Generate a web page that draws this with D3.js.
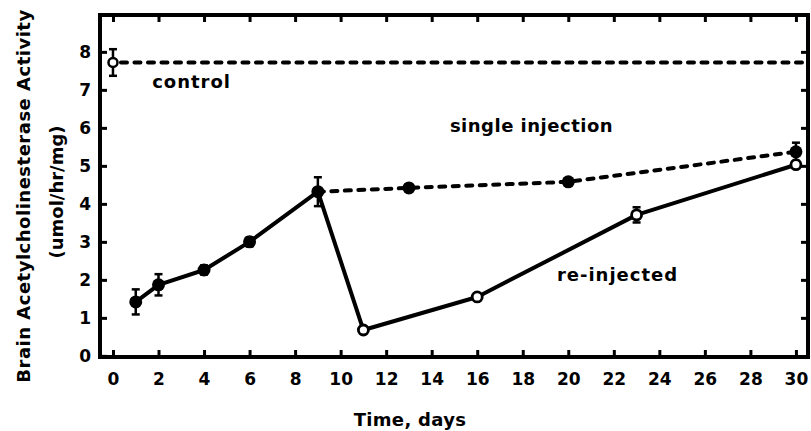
<!DOCTYPE html>
<html>
<head>
<meta charset="utf-8">
<script src="https://cdn.jsdelivr.net/npm/d3@7"></script>
<style>
  html, body { margin: 0; padding: 0; background: #fff; }
  svg { display: block; }
  text { font-family: "DejaVu Sans", sans-serif; font-weight: bold; fill: #000; }
</style>
</head>
<body>
<svg id="chart" width="811" height="431"></svg>
<script>
// ---- data ----
const xTicks = [0, 2, 4, 6, 8, 10, 12, 14, 16, 18, 20, 22, 24, 26, 28, 30];
const yTicks = [0, 1, 2, 3, 4, 5, 6, 7, 8];

const controlDay = [0];
const controlValue = [7.72];
const controlErr = [0.35];

// single injection (filled circles)
const singleDays = [1, 2, 4, 6, 9, 13, 20, 30];
const singleValues = [1.42, 1.87, 2.26, 3.0, 4.32, 4.42, 4.58, 5.37];
const singleErr = [0.33, 0.28, 0.12, 0.12, 0.38, 0, 0, 0.24];

// re-injected (open circles)
const reDays = [11, 16, 23, 30];
const reValues = [0.68, 1.55, 3.71, 5.03];
const reErr = [0, 0, 0.2, 0];

const labels = [
  { text: "control", day: 1.72, value: 7.05, spacing: 1 },
  { text: "single injection", day: 14.8, value: 5.9, spacing: 0.5 },
  { text: "re-injected", day: 19.5, value: 1.97, spacing: 1 }
];

// ---- layout ----
const svg = d3.select("#chart");
const L = 100, R = 808, T = 15, B = 357;
const x = d3.scaleLinear().domain([-0.57, 30.53]).range([L, R]);
const y = d3.scaleLinear().domain([-0.03, 8.97]).range([B, T]);

// frame
svg.append("rect")
  .attr("x", L).attr("y", T).attr("width", R - L).attr("height", B - T)
  .attr("fill", "none").attr("stroke", "#000").attr("stroke-width", 4);

function styleAxis(g) {
  g.select(".domain").remove();
  g.selectAll(".tick line").attr("stroke", "#000").attr("stroke-width", 3);
  g.selectAll(".tick text").style("font-size", "17px").style("font-family", "DejaVu Sans").style("font-weight", "bold");
}

svg.append("g").attr("transform", `translate(0,${B})`)
  .call(d3.axisBottom(x).tickValues(xTicks).tickSize(-7).tickPadding(16).tickFormat(d3.format("d")))
  .call(styleAxis);
svg.append("g").attr("transform", `translate(0,${T})`)
  .call(d3.axisTop(x).tickValues(xTicks).tickSize(-7).tickFormat(""))
  .call(styleAxis);
svg.append("g").attr("transform", `translate(${L},0)`)
  .call(d3.axisLeft(y).tickValues(yTicks).tickSize(-7).tickPadding(9).tickFormat(d3.format("d")))
  .call(styleAxis);
svg.append("g").attr("transform", `translate(${R},0)`)
  .call(d3.axisRight(y).tickValues(yTicks.slice(1)).tickSize(-7).tickFormat(""))
  .call(styleAxis);

// axis titles
svg.append("text")
  .attr("transform", `translate(30,196) rotate(-90)`)
  .attr("text-anchor", "middle")
  .style("font-size", "18px").style("letter-spacing", "0.5px")
  .text("Brain Acetylcholinesterase Activity");
svg.append("text")
  .attr("transform", `translate(63,192) rotate(-90)`)
  .attr("text-anchor", "middle")
  .style("font-size", "18px")
  .text("(umol/hr/mg)");
svg.append("text")
  .attr("x", 410).attr("y", 426)
  .attr("text-anchor", "middle")
  .style("font-size", "18px").style("letter-spacing", "0.3px")
  .text("Time, days");

// lines
const line = d3.line().x(d => x(d[0])).y(d => y(d[1]));
const single = singleDays.map((d, i) => [d, singleValues[i]]);
const re = reDays.map((d, i) => [d, reValues[i]]);
const peak = single.find(d => d[0] === 9);

// control dashed line to the right frame
svg.append("path")
  .attr("d", line([[controlDay[0], controlValue[0]], [x.domain()[1], controlValue[0]]]))
  .attr("fill", "none").attr("stroke", "#000").attr("stroke-width", 4)
  .attr("stroke-dasharray", "6,7.5").attr("stroke-linecap", "round")
  .attr("stroke-dashoffset", -8);

// solid: day 1 -> 9
svg.append("path")
  .attr("d", line(single.filter(d => d[0] <= 9)))
  .attr("fill", "none").attr("stroke", "#000").attr("stroke-width", 4).attr("stroke-linejoin", "round");
// dashed: single injection after day 9
svg.append("path")
  .attr("d", line(single.filter(d => d[0] >= 9)))
  .attr("fill", "none").attr("stroke", "#000").attr("stroke-width", 4)
  .attr("stroke-dasharray", "6,7.5").attr("stroke-linecap", "round");
// solid: re-injected from day 9 peak
svg.append("path")
  .attr("d", line([peak].concat(re)))
  .attr("fill", "none").attr("stroke", "#000").attr("stroke-width", 4).attr("stroke-linejoin", "round");

// error bars
function errBars(days, vals, errs) {
  const data = days.map((d, i) => ({ d, v: vals[i], e: errs[i] })).filter(o => o.e > 0);
  const g = svg.append("g").attr("stroke", "#000").attr("stroke-width", 2.5);
  data.forEach(o => {
    g.append("line").attr("x1", x(o.d)).attr("x2", x(o.d)).attr("y1", y(o.v - o.e)).attr("y2", y(o.v + o.e));
    [o.v - o.e, o.v + o.e].forEach(v => {
      g.append("line").attr("x1", x(o.d) - 4).attr("x2", x(o.d) + 4).attr("y1", y(v)).attr("y2", y(v));
    });
  });
}
errBars(singleDays, singleValues, singleErr);
errBars(reDays, reValues, reErr);
errBars(controlDay, controlValue, controlErr);

// points
svg.append("g").selectAll("circle").data(single).join("circle")
  .attr("cx", d => x(d[0])).attr("cy", d => y(d[1])).attr("r", 6.5).attr("fill", "#000");
svg.append("g").selectAll("circle").data(re).join("circle")
  .attr("cx", d => x(d[0])).attr("cy", d => y(d[1])).attr("r", 5)
  .attr("fill", "#fff").attr("stroke", "#000").attr("stroke-width", 2.8);
svg.append("g").selectAll("circle").data(controlDay.map((d, i) => [d, controlValue[i]])).join("circle")
  .attr("cx", d => x(d[0])).attr("cy", d => y(d[1])).attr("r", 4.5)
  .attr("fill", "#fff").attr("stroke", "#000").attr("stroke-width", 2.5);

// labels
svg.append("g").selectAll("text").data(labels).join("text")
  .attr("x", d => x(d.day)).attr("y", d => y(d.value))
  .style("font-size", "18px")
  .style("letter-spacing", d => d.spacing + "px")
  .text(d => d.text);
</script>
</body>
</html>
